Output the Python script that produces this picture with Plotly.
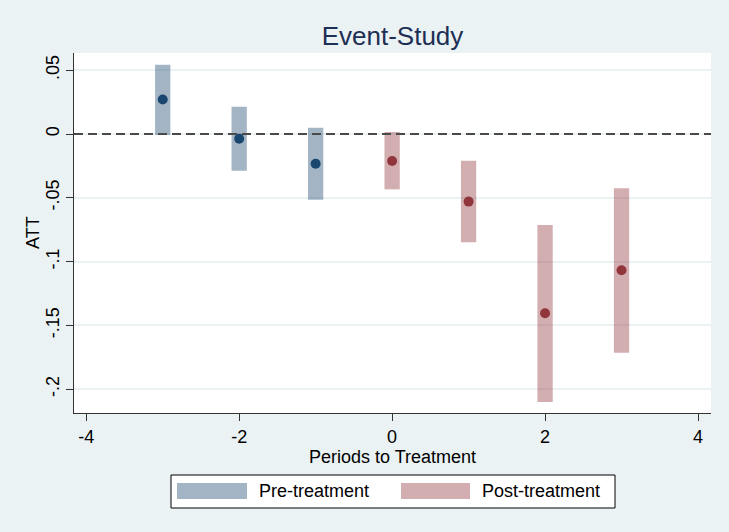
import plotly.graph_objects as go

# ---- data ----
pre_periods = [-3, -2, -1]
pre_att = [0.027, -0.0037, -0.0233]
pre_lo = [-0.0008, -0.0288, -0.0515]
pre_hi = [0.0543, 0.0214, 0.0049]

post_periods = [0, 1, 2, 3]
post_att = [-0.0212, -0.0530, -0.1405, -0.1068]
post_lo = [-0.0434, -0.0849, -0.2100, -0.1714]
post_hi = [0.0016, -0.0209, -0.0713, -0.0426]

x_tickvals = [-4, -2, 0, 2, 4]
x_ticktext = ["-4", "-2", "0", "2", "4"]
y_tickvals = [0.05, 0, -0.05, -0.1, -0.15, -0.2]
y_ticktext = [".05", "0", "-.05", "-.1", "-.15", "-.2"]

NAVY = "#1a476f"
MAROON = "#90353b"
PRE_BAR = "rgba(26,71,111,0.4)"
POST_BAR = "rgba(144,53,59,0.4)"
BG = "#eaf2f3"
FONT = "Liberation Sans, Arial, sans-serif"

# plot area in pixels
L, R, T, B = 74, 711, 53, 413
PW, PH = R - L, B - T


def px(x):
    return (x - L) / PW


def py(y):
    return (B - y) / PH


fig = go.Figure()
fig.add_trace(go.Bar(
    x=pre_periods, y=[h - l for h, l in zip(pre_hi, pre_lo)], base=pre_lo,
    width=0.2, marker=dict(color=PRE_BAR, line=dict(width=0)),
    name="Pre-treatment", showlegend=False, hoverinfo="skip"))
fig.add_trace(go.Bar(
    x=post_periods, y=[h - l for h, l in zip(post_hi, post_lo)], base=post_lo,
    width=0.2, marker=dict(color=POST_BAR, line=dict(width=0)),
    name="Post-treatment", showlegend=False, hoverinfo="skip"))
fig.add_trace(go.Scatter(
    x=pre_periods, y=pre_att, mode="markers",
    marker=dict(color=NAVY, size=10), showlegend=False))
fig.add_trace(go.Scatter(
    x=post_periods, y=post_att, mode="markers",
    marker=dict(color=MAROON, size=10), showlegend=False))

# zero reference line
fig.add_shape(type="line", xref="paper", yref="y", x0=0, x1=1, y0=0, y1=0,
              line=dict(color="#4a4a4a", width=2.2, dash="9px,5px"), layer="above")

# manual legend (Stata style: wide swatches in a boxed strip)
fig.add_shape(type="rect", xref="paper", yref="paper",
              x0=px(171), x1=px(615), y0=py(508), y1=py(475),
              line=dict(color="#000000", width=1), fillcolor="white", layer="above")
fig.add_shape(type="rect", xref="paper", yref="paper",
              x0=px(177), x1=px(247), y0=py(499), y1=py(483),
              line=dict(width=0), fillcolor=PRE_BAR, layer="above")
fig.add_shape(type="rect", xref="paper", yref="paper",
              x0=px(401), x1=px(470), y0=py(499), y1=py(483),
              line=dict(width=0), fillcolor=POST_BAR, layer="above")
fig.add_annotation(xref="paper", yref="paper", x=px(257), y=py(491.5),
                   text="Pre-treatment", showarrow=False, xanchor="left", yanchor="middle",
                   font=dict(family=FONT, size=18, color="#000000"))
fig.add_annotation(xref="paper", yref="paper", x=px(480), y=py(491.5),
                   text="Post-treatment", showarrow=False, xanchor="left", yanchor="middle",
                   font=dict(family=FONT, size=18, color="#000000"))

# y-axis title placed as in the reference
fig.add_annotation(xref="paper", yref="paper", x=px(33), y=py(233),
                   text="ATT", textangle=-90, showarrow=False,
                   xanchor="center", yanchor="middle",
                   font=dict(family=FONT, size=18, color="#000000"))

fig.update_layout(
    width=729, height=532,
    margin=dict(l=L, r=729 - R, t=T, b=532 - B),
    paper_bgcolor=BG, plot_bgcolor="white",
    font=dict(family=FONT, size=18, color="#000000"),
    title=dict(text="Event-Study", x=392.5 / 729, xanchor="center",
               y=1 - 36 / 532, yanchor="middle",
               font=dict(family=FONT, size=26, color="#1e2f55")),
    barmode="overlay",
    showlegend=False,
    xaxis=dict(range=[-4.16, 4.17], tickvals=x_tickvals, ticktext=x_ticktext,
               ticks="outside", ticklen=7,
               tickcolor="#333333", showline=True, linecolor="#333333", linewidth=1.2,
               showgrid=False, zeroline=False,
               title=dict(text="Periods to Treatment", standoff=1,
                          font=dict(family=FONT, size=18)),
               tickfont=dict(family=FONT, size=18)),
    yaxis=dict(range=[-0.2187, 0.0635], tickvals=y_tickvals, ticktext=y_ticktext,
               tickangle=-90, ticks="outside", ticklen=7, tickcolor="#333333",
               showline=True, linecolor="#333333", linewidth=1.2,
               showgrid=True, gridcolor=BG, gridwidth=1.5, zeroline=False,
               tickfont=dict(family=FONT, size=18)),
)

fig.write_html("out.html",
               config={"displayModeBar": False},
               post_script="document.body.style.margin='0px';"
                           "document.body.style.overflow='hidden';")
